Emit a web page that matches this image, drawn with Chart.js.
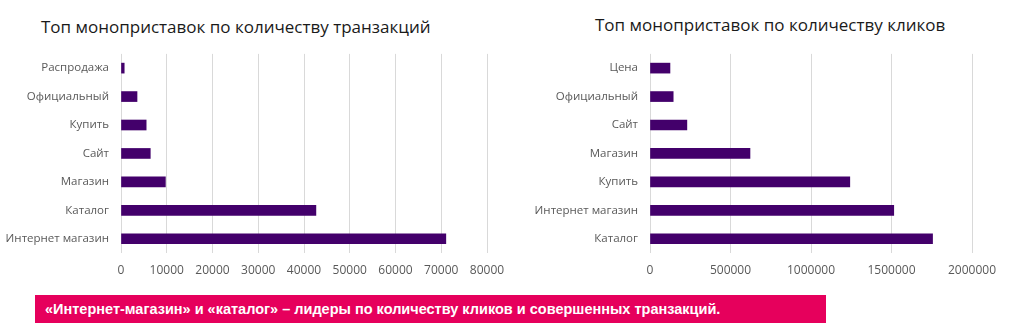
<!DOCTYPE html>
<html>
<head>
<meta charset="utf-8">
<script src="https://cdn.jsdelivr.net/npm/chart.js@4"></script>
<style>
  html, body { margin: 0; padding: 0; background: #fff; }
  body { width: 1010px; height: 329px; position: relative; overflow: hidden; font-family: "Open Sans", sans-serif; }
  .title { position: absolute; font-size: 17px; line-height: 20px; color: #1a1a1a; white-space: nowrap; }
  #t1 { left: 41px; top: 17px; }
  #t2 { left: 595px; top: 15px; }
  .box { position: absolute; top: 35px; height: 250px; }
  .box canvas { display: block; }
  #b1 { left: 0; width: 530px; }
  #b2 { left: 520px; width: 490px; }
  #banner { position: absolute; left: 35px; top: 295px; width: 791px; height: 28px; background: #e6005c;
    color: #fff; font-family: "Liberation Sans", sans-serif; font-weight: bold; font-size: 14.5px; line-height: 28px;
    padding-left: 10px; box-sizing: border-box; white-space: nowrap; }
</style>
</head>
<body>
<div class="title" id="t1">Топ моноприставок по количеству транзакций</div>
<div class="title" id="t2">Топ моноприставок по количеству кликов</div>
<div class="box" id="b1"><canvas id="c1" width="530" height="250"></canvas></div>
<div class="box" id="b2"><canvas id="c2" width="490" height="250"></canvas></div>
<div id="banner">«Интернет-магазин» и «каталог» – лидеры по количеству кликов и совершенных транзакций.</div>
<script>
// transactions (left)
const txLabels = ['Распродажа', 'Официальный', 'Купить', 'Сайт', 'Магазин', 'Каталог', 'Интернет магазин'];
const txValues = [700, 3500, 5500, 6400, 9700, 42600, 71000];
const txMax = 80000;
const txStep = 10000;

// clicks (right)
const clickLabels = ['Цена', 'Официальный', 'Сайт', 'Магазин', 'Купить', 'Интернет магазин', 'Каталог'];
const clickValues = [124000, 144000, 229000, 621000, 1241000, 1514000, 1755000];
const clickMax = 2000000;
const clickStep = 500000;

const barColor = '#43006b';
const gridColor = '#d9d9d9';
const tickColor = '#595959';
const tickFont = { family: '"Open Sans", sans-serif', size: 12 };
const catFont = { family: '"Open Sans", sans-serif', size: 11.5 };

function makeChart(id, labels, values, max, step, yWidth, padRight) {
  return new Chart(document.getElementById(id), {
    type: 'bar',
    data: {
      labels: labels,
      datasets: [{
        data: values,
        backgroundColor: barColor,
        barThickness: 10
      }]
    },
    options: {
      indexAxis: 'y',
      responsive: false,
      animation: false,
      layout: { padding: { top: 0, right: padRight, left: 0, bottom: 0 } },
      plugins: { legend: { display: false }, tooltip: { enabled: false } },
      scales: {
        x: {
          min: 0,
          max: max,
          ticks: { stepSize: step, color: tickColor, font: tickFont, padding: 10, maxRotation: 0,
            callback: v => String(v) },
          grid: { color: gridColor, drawTicks: false },
          border: { display: false },
          afterFit: s => { s.height = 32; }
        },
        y: {
          ticks: { color: tickColor, font: catFont, padding: 12 },
          grid: { display: false, drawTicks: false },
          border: { display: false },
          afterFit: s => { s.width = yWidth; }
        }
      }
    }
  });
}

makeChart('c1', txLabels, txValues, txMax, txStep, 121, 43);
makeChart('c2', clickLabels, clickValues, clickMax, clickStep, 130, 38);
</script>
</body>
</html>
